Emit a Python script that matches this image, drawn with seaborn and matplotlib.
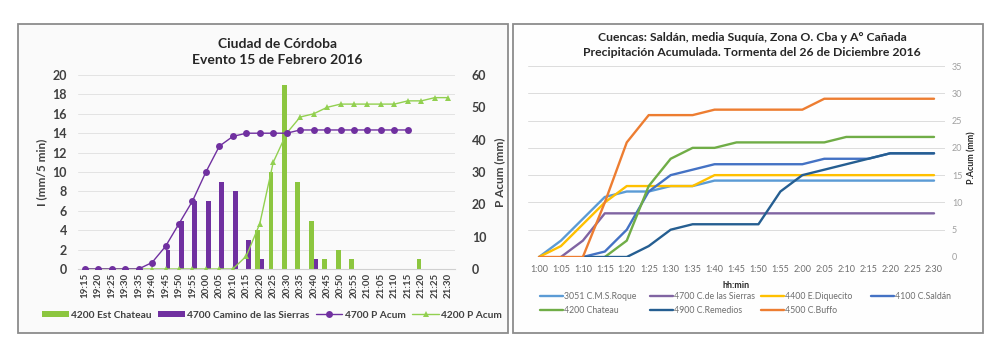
import numpy as np
import pandas as pd
import matplotlib
matplotlib.use("Agg")
import matplotlib.pyplot as plt
from matplotlib.patches import Rectangle, Patch
from matplotlib.lines import Line2D
import seaborn as sns

sns.set_style("white")
plt.rcParams['font.family'] = ['Lato', 'DejaVu Sans']

nan = np.nan

# ---- left chart: Ciudad de Cordoba, 15 Feb 2016 ----
times_left = ['19:15', '19:20', '19:25', '19:30', '19:35', '19:40', '19:45', '19:50',
              '19:55', '20:00', '20:05', '20:10', '20:15', '20:20', '20:25', '20:30',
              '20:35', '20:40', '20:45', '20:50', '20:55', '21:00', '21:05', '21:10',
              '21:15', '21:20', '21:25', '21:30']
bars_4200 = [0, 0, 0, 0, 0, 0, 0, 0, 0, 0, 0, 0, 0, 4, 10, 19, 9, 5, 1, 2, 1, 0, 0, 0, 0, 1, 0, 0]
bars_4700 = [0, 0, 0, 0, 0, 0, 2, 5, 7, 7, 9, 8, 3, 1, 0, 0, 0, 1, 0, 0, 0, 0, 0, 0, 0, 0, 0, 0]
acum_4700 = [0, 0, 0, 0, 0, 2, 7, 14, 21, 30, 38, 41, 42, 42, 42, 42, 43, 43, 43, 43, 43, 43,
             43, 43, 43, nan, nan, nan]
acum_4200 = [0, 0, 0, 0, 0, 0, 0, 0, 0, 0, 0, 0, 4, 14, 33, 42, 47, 48, 50, 51, 51, 51, 51, 51,
             52, 52, 53, 53]

# ---- right chart: Cuencas, 26 Dic 2016 ----
times_right = ['1:00', '1:05', '1:10', '1:15', '1:20', '1:25', '1:30', '1:35', '1:40', '1:45',
               '1:50', '1:55', '2:00', '2:05', '2:10', '2:15', '2:20', '2:25', '2:30']
roque = [0, 3, 7, 11, 12, 12, 13, 13, 14, 14, 14, 14, 14, 14, 14, 14, 14, 14, 14]
sierras = [nan, 0, 3, 8, 8, 8, 8, 8, 8, 8, 8, 8, 8, 8, 8, 8, 8, 8, 8]
diquecito = [0, 2, 6, 10, 13, 13, 13, 13, 15, 15, 15, 15, 15, 15, 15, 15, 15, 15, 15]
saldan = [nan, nan, 0, 1, 5, 12, 15, 16, 17, 17, 17, 17, 17, 18, 18, 18, 19, 19, 19]
chateau = [nan, nan, nan, 0, 3, 13, 18, 20, 20, 21, 21, 21, 21, 21, 22, 22, 22, 22, 22]
remedios = [nan, nan, 0, 0, 0, 2, 5, 6, 6, 6, 6, 12, 15, 16, 17, 18, 19, 19, 19]
buffo = [0, 0, 0, 10, 21, 26, 26, 26, 27, 27, 27, 27, 27, 29, 29, 29, 29, 29, 29]

right_names = ['3051 C.M.S.Roque', '4700 C.de las Sierras', '4400 E.Diquecito', '4100 C.Saldán',
               '4200 Chateau', '4900 C.Remedios', '4500 C.Buffo']
right_series = [roque, sierras, diquecito, saldan, chateau, remedios, buffo]
right_colors = ['#5B9BD5', '#8064A2', '#FFC000', '#4472C4', '#70AD47', '#255E91', '#ED7D31']

W, H = 996, 350
fig = plt.figure(figsize=(W / 100, H / 100), dpi=100)


def fx(px):
    return px / W


def fy(py):
    return 1 - py / H


# panel frames (behind the axes)
fig.patches.append(Rectangle((fx(18), fy(333)), fx(490), (333 - 24) / H, transform=fig.transFigure,
                             facecolor='#FAFAFA', edgecolor='#8C8C8C', lw=1.3, zorder=-5))
fig.patches.append(Rectangle((fx(513), fy(333)), fx(470), (333 - 24) / H, transform=fig.transFigure,
                             facecolor='#FEFEFE', edgecolor='#8C8C8C', lw=1.3, zorder=-5))

dark = '#404040'
green_bar = '#8CC63F'
purple = '#7030A0'
green_line = '#92D050'

# ---------- left ----------
ax = fig.add_axes([fx(78), fy(269), fx(455 - 78), (269 - 75) / H])
ax.set_facecolor('none')
df_bars = pd.DataFrame({
    'time': times_left * 2,
    'value': bars_4200 + bars_4700,
    'serie': ['4200 Est Chateau'] * len(times_left) + ['4700 Camino de las Sierras'] * len(times_left),
})
sns.barplot(data=df_bars, x='time', y='value', hue='serie', order=times_left,
            palette=[green_bar, purple], width=0.7, ax=ax, legend=False, zorder=2,
            linewidth=0, saturation=1)
ax.set_ylim(0, 20)
ax.set_yticks(range(0, 21, 2))
ax.set_xlim(-0.5, len(times_left) - 0.5)
ax.grid(axis='y', color='#E3E3E3', lw=0.7)
ax.set_axisbelow(True)
for s in ['top', 'right', 'left']:
    ax.spines[s].set_visible(False)
ax.spines['bottom'].set_color('#D0D0D0')
ax.tick_params(axis='x', labelrotation=90, labelsize=7, length=0, pad=3, colors=dark)
ax.tick_params(axis='y', labelsize=9, length=0, pad=8, colors=dark)
for t in ax.get_xticklabels() + ax.get_yticklabels():
    t.set_fontweight('bold')
ax.set_xlabel('')
ax.set_ylabel('I (mm/5 min)', fontsize=8.5, fontweight='bold', color=dark, labelpad=4)

ax2 = ax.twinx()
idx = np.arange(len(times_left))
sns.lineplot(x=idx, y=acum_4700, ax=ax2, color=purple, lw=1.0, marker='o', markersize=5,
             markeredgewidth=0, zorder=4)
sns.lineplot(x=idx, y=acum_4200, ax=ax2, color=green_line, lw=1.0, marker='^', markersize=4,
             markeredgewidth=0, zorder=3)
ax2.set_ylim(0, 60)
ax2.set_yticks(range(0, 61, 10))
ax2.set_xlim(-0.5, len(times_left) - 0.5)
for s in ax2.spines.values():
    s.set_visible(False)
ax2.tick_params(axis='y', labelsize=9, length=0, pad=12, colors=dark)
for t in ax2.get_yticklabels():
    t.set_fontweight('bold')
ax2.set_ylabel('P Acum (mm)', fontsize=8.5, fontweight='bold', color=dark, labelpad=6)

fig.text(fx(277), fy(52), 'Ciudad de Córdoba\nEvento 15 de Febrero 2016', ha='center', va='center',
         fontsize=10, fontweight='bold', color='#262626', linespacing=1.45)

left_handles = [
    Patch(facecolor=green_bar, edgecolor='none'),
    Patch(facecolor=purple, edgecolor='none'),
    Line2D([], [], color=purple, lw=1, marker='o', markersize=5, markeredgewidth=0),
    Line2D([], [], color=green_line, lw=1, marker='^', markersize=4, markeredgewidth=0),
]
left_labels = ['4200 Est Chateau', '4700 Camino de las Sierras', '4700 P Acum', '4200 P Acum']
leg = fig.legend(left_handles, left_labels, loc='center', bbox_to_anchor=(fx(272), fy(315)),
                 ncol=4, frameon=False, handlelength=2.6, handleheight=0.5, handletextpad=0.2,
                 columnspacing=0.7, prop={'size': 7.3, 'weight': 'bold'})
for t in leg.get_texts():
    t.set_color(dark)

# ---------- right ----------
ax3 = fig.add_axes([fx(528), fy(257), fx(945 - 528), (257 - 66) / H])
ax3.set_facecolor('none')
ridx = np.arange(len(times_right))
df_r = pd.DataFrame({
    'x': np.tile(ridx, len(right_names)),
    'y': np.concatenate([np.array(s, dtype=float) for s in right_series]),
    'serie': np.repeat(right_names, len(times_right)),
})
sns.lineplot(data=df_r, x='x', y='y', hue='serie', hue_order=right_names,
             palette=right_colors, lw=1.7, ax=ax3, legend=False)
ax3.set_ylim(0, 35)
ax3.set_yticks(range(0, 36, 5))
ax3.set_xlim(-0.5, len(times_right) - 0.5)
ax3.set_xticks(ridx)
ax3.set_xticklabels(times_right)
ax3.yaxis.tick_right()
ax3.grid(axis='y', color='#DCDCDC', lw=0.7)
ax3.set_axisbelow(True)
for s in ax3.spines.values():
    s.set_visible(False)
ax3.tick_params(axis='x', labelsize=6.5, length=0, pad=6, colors='#6E6E6E')
ax3.tick_params(axis='y', labelsize=6.5, length=0, pad=5, colors='#A0A0A0')
ax3.set_xlabel('hh:min', fontsize=6.5, fontweight='bold', color='#262626', labelpad=5)
ax3.set_ylabel('')
fig.text(fx(972), fy(158), 'P.Acum (mm)', rotation=90, ha='center', va='center',
         fontsize=6.5, fontweight='bold', color='#262626')

fig.text(fx(752), fy(45), 'Cuencas: Saldán, media Suquía, Zona O. Cba y A° Cañada\n'
         'Precipitación Acumulada. Tormenta del 26 de Diciembre 2016',
         ha='center', va='center', fontsize=8.8, fontweight='bold', color='#262626',
         linespacing=1.45)

# legend laid out in 4 evenly spaced columns (row-major as in the original)
col_x = [540, 650, 761, 871]
for j, x0 in enumerate(col_x):
    items = [k for k in (j, j + 4) if k < len(right_names)]
    hs = [Line2D([], [], color=right_colors[k], lw=1.7) for k in items]
    lg = fig.legend(hs, [right_names[k] for k in items], loc='upper left',
                    bbox_to_anchor=(fx(x0), fy(292)), frameon=False, handlelength=2.6,
                    handletextpad=0.1, labelspacing=0.55, borderpad=0, borderaxespad=0,
                    prop={'size': 6.3})
    for t in lg.get_texts():
        t.set_color('#6E6E6E')

fig.savefig('out.png', dpi=100)
